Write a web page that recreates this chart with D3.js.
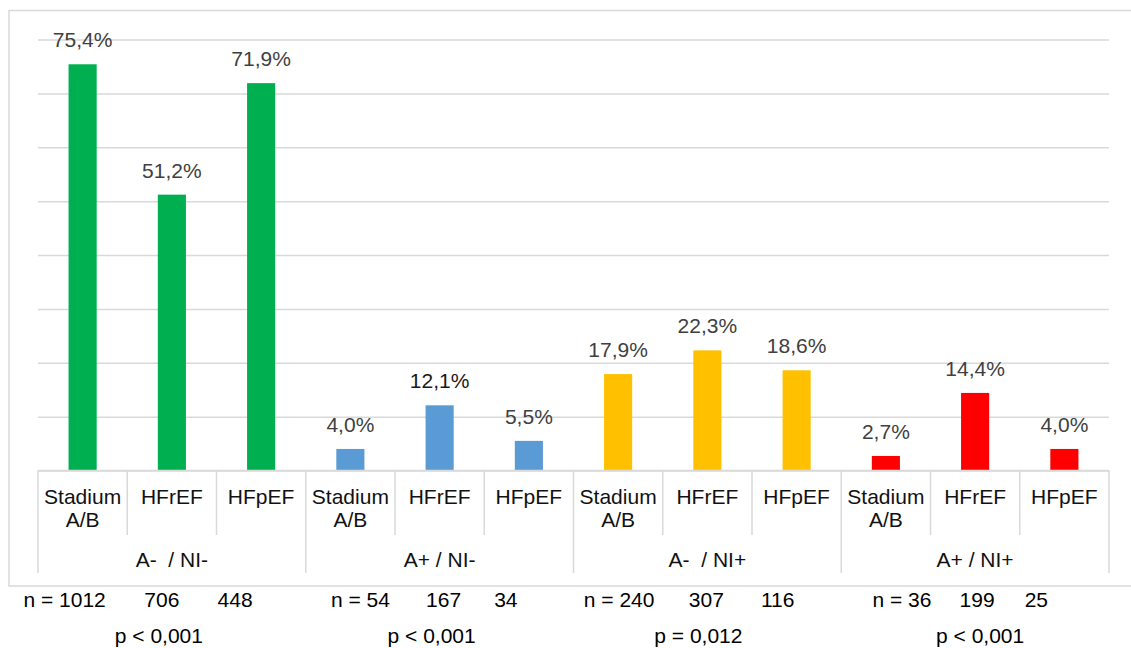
<!DOCTYPE html>
<html>
<head>
<meta charset="utf-8">
<script src="https://cdn.jsdelivr.net/npm/d3@7"></script>
<style>
  body { margin: 0; background: #fff; }
  svg text { font-family: "Liberation Sans", Arial, sans-serif; white-space: pre; }
</style>
</head>
<body>
<svg width="1131" height="648"></svg>
<script>
// data
var groups = ["A-  / NI-", "A+ / NI-", "A-  / NI+", "A+ / NI+"];
var subLabels = [["Stadium", "A/B"], ["HFrEF"], ["HFpEF"]];
var values = [
    [75.4, 51.2, 71.9],
    [4.0, 12.1, 5.5],
    [17.9, 22.3, 18.6],
    [2.7, 14.4, 4.0]
];
var nLabels = ["n = 1012", "706", "448", "n = 54", "167", "34", "n = 240", "307", "116", "n = 36", "199", "25"];
var pLabels = ["p < 0,001", "p < 0,001", "p = 0,012", "p < 0,001"];
var yTicks = [0, 10, 20, 30, 40, 50, 60, 70, 80];

// layout / style
var groupColors = ["#00b050", "#5b9bd5", "#ffc000", "#ff0000"];
var nOffsets = [-18, -10, -26, 10, 4, -23, 1, -1, -19, 16, 2, -28];
var pOffsets = [-13, -8, -9, 5];
var gridColor = "#d9d9d9";
var fontSize = 21;

var svg = d3.select("svg");
var plotLeft = 38, plotRight = 1109, plotTop = 39.5, plotBase = 470.5;

var cats = [];
groups.forEach(function (g, gi) {
    subLabels.forEach(function (s, si) {
        cats.push({ id: gi + "-" + si, group: gi, sub: si, value: values[gi][si] });
    });
});

var x = d3.scaleBand().domain(cats.map(function (d) { return d.id; })).range([plotLeft, plotRight]);
var y = d3.scaleLinear().domain([0, 80]).range([plotBase, plotTop]);
var bw = x.bandwidth() * 0.315;

// outer frame
svg.append("rect")
    .attr("x", 9).attr("y", 10.5).attr("width", 1130).attr("height", 575.5)
    .attr("fill", "none").attr("stroke", gridColor).attr("stroke-width", 1.5);

// gridlines
var grid = svg.append("g").attr("transform", "translate(" + plotLeft + ",0)")
    .call(d3.axisLeft(y).tickValues(yTicks).tickSize(-(plotRight - plotLeft)).tickFormat(""));
grid.select(".domain").remove();
grid.selectAll("line").attr("stroke", gridColor).attr("stroke-width", 1.5);

// bars
svg.append("g").selectAll("rect")
    .data(cats).enter().append("rect")
    .attr("x", function (d) { return x(d.id) + (x.bandwidth() - bw) / 2; })
    .attr("y", function (d) { return y(d.value); })
    .attr("width", bw)
    .attr("height", function (d) { return y(0) - y(d.value); })
    .attr("fill", function (d) { return groupColors[d.group]; });

// value labels
svg.append("g").selectAll("text")
    .data(cats).enter().append("text")
    .attr("x", function (d) { return x(d.id) + x.bandwidth() / 2; })
    .attr("y", function (d) { return y(d.value) - 17; })
    .attr("text-anchor", "middle")
    .attr("font-size", fontSize)
    .attr("fill", function (d) { return d.group === 1 && d.sub === 1 ? "#1a1a1a" : "#404040"; })
    .text(function (d) { return d3.format(".1f")(d.value).replace(".", ",") + "%"; });

// baseline
svg.append("line")
    .attr("x1", plotLeft).attr("x2", plotRight).attr("y1", plotBase).attr("y2", plotBase)
    .attr("stroke", gridColor).attr("stroke-width", 1.5);

// category separators
var sepIdx = d3.range(cats.length + 1);
svg.append("g").selectAll("line")
    .data(sepIdx).enter().append("line")
    .attr("x1", function (i) { return i < cats.length ? x(cats[i].id) : plotRight; })
    .attr("x2", function (i) { return i < cats.length ? x(cats[i].id) : plotRight; })
    .attr("y1", plotBase)
    .attr("y2", function (i) { return i % 3 === 0 ? 573 : 535; })
    .attr("stroke", gridColor).attr("stroke-width", 1.5);

// category labels
var catText = svg.append("g").selectAll("text")
    .data(cats).enter().append("text")
    .attr("text-anchor", "middle")
    .attr("font-size", fontSize)
    .attr("fill", "#111");
catText.each(function (d) {
    var t = d3.select(this);
    subLabels[d.sub].forEach(function (line, li) {
        t.append("tspan")
            .attr("x", x(d.id) + x.bandwidth() / 2)
            .attr("y", 504 + li * 23)
            .text(line);
    });
});

// group labels
svg.append("g").selectAll("text")
    .data(groups).enter().append("text")
    .attr("x", function (g, gi) { return x(gi + "-1") + x.bandwidth() / 2; })
    .attr("y", 567)
    .attr("text-anchor", "middle")
    .attr("font-size", fontSize)
    .attr("fill", "#111")
    .text(function (g) { return g; });

// n row
svg.append("g").selectAll("text")
    .data(nLabels).enter().append("text")
    .attr("x", function (t, i) { return x(cats[i].id) + x.bandwidth() / 2 + nOffsets[i]; })
    .attr("y", 607)
    .attr("text-anchor", "middle")
    .attr("font-size", fontSize)
    .attr("fill", "#000")
    .text(function (t) { return t; });

// p row
svg.append("g").selectAll("text")
    .data(pLabels).enter().append("text")
    .attr("x", function (t, i) { return x(i + "-1") + x.bandwidth() / 2 + pOffsets[i]; })
    .attr("y", 643)
    .attr("text-anchor", "middle")
    .attr("font-size", fontSize)
    .attr("fill", "#000")
    .text(function (t) { return t; });
</script>
</body>
</html>
